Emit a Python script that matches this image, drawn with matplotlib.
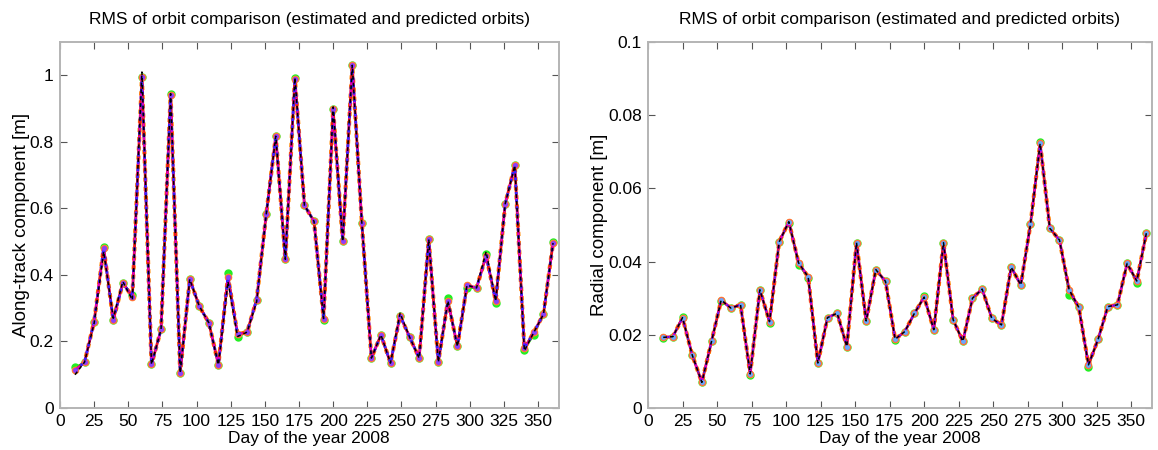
import matplotlib
matplotlib.use("Agg")
import matplotlib.pyplot as plt
from matplotlib.ticker import FixedLocator, FixedFormatter

plt.rcParams['font.family'] = ['Liberation Sans', 'DejaVu Sans']

days = [11, 18, 25, 32, 39, 46, 53, 60, 67, 74, 81, 88, 95, 102, 109, 116, 123,
        130, 137, 144, 151, 158, 165, 172, 179, 186, 193, 200, 207, 214, 221, 228,
        235, 242, 249, 256, 263, 270, 277, 284, 291, 298, 305, 312, 319, 326, 333,
        340, 347, 354, 361]

# Along-track RMS [m] - several overlapping solutions
along_red = [0.113, 0.138, 0.260, 0.481, 0.264, 0.376, 0.334, 0.995, 0.131, 0.236,
             0.942, 0.106, 0.387, 0.306, 0.256, 0.130, 0.395, 0.222, 0.228, 0.326,
             0.582, 0.817, 0.447, 0.990, 0.609, 0.561, 0.269, 0.898, 0.501, 1.030,
             0.557, 0.150, 0.220, 0.135, 0.278, 0.213, 0.150, 0.507, 0.138, 0.322,
             0.185, 0.369, 0.361, 0.458, 0.322, 0.614, 0.729, 0.179, 0.228, 0.282,
             0.496]
along_green = [0.122, 0.138, 0.260, 0.484, 0.264, 0.376, 0.340, 0.995, 0.131, 0.236,
               0.945, 0.106, 0.387, 0.306, 0.256, 0.130, 0.405, 0.213, 0.228, 0.326,
               0.582, 0.817, 0.447, 0.993, 0.609, 0.561, 0.265, 0.898, 0.501, 1.030,
               0.557, 0.150, 0.220, 0.135, 0.278, 0.213, 0.150, 0.507, 0.138, 0.330,
               0.185, 0.360, 0.361, 0.462, 0.315, 0.614, 0.729, 0.175, 0.220, 0.282,
               0.500]
along_black = [0.100, 0.138, 0.255, 0.470, 0.270, 0.380, 0.325, 1.010, 0.131, 0.236,
               0.945, 0.106, 0.387, 0.306, 0.256, 0.130, 0.380, 0.215, 0.228, 0.320,
               0.582, 0.817, 0.447, 0.993, 0.609, 0.561, 0.269, 0.905, 0.501, 1.030,
               0.557, 0.150, 0.220, 0.135, 0.285, 0.213, 0.150, 0.507, 0.138, 0.322,
               0.185, 0.369, 0.361, 0.470, 0.322, 0.614, 0.729, 0.172, 0.228, 0.282,
               0.496]

# Radial RMS [m]
radial_red = [0.0193, 0.0195, 0.0247, 0.0145, 0.0070, 0.0182, 0.0295, 0.0273, 0.0282, 0.0093,
              0.0323, 0.0236, 0.0454, 0.0509, 0.0397, 0.0358, 0.0123, 0.0247, 0.0259, 0.0168,
              0.0452, 0.0238, 0.0378, 0.0346, 0.0188, 0.0209, 0.0259, 0.0303, 0.0214, 0.0452,
              0.0241, 0.0182, 0.0300, 0.0325, 0.0245, 0.0227, 0.0385, 0.0336, 0.0502, 0.0723,
              0.0491, 0.0459, 0.0323, 0.0275, 0.0118, 0.0188, 0.0277, 0.0282, 0.0395, 0.0347,
              0.0479]
radial_green = [0.0190, 0.0195, 0.0250, 0.0145, 0.0070, 0.0182, 0.0292, 0.0273, 0.0282, 0.0090,
                0.0323, 0.0232, 0.0454, 0.0505, 0.0392, 0.0355, 0.0123, 0.0247, 0.0259, 0.0168,
                0.0452, 0.0238, 0.0378, 0.0346, 0.0185, 0.0209, 0.0259, 0.0307, 0.0214, 0.0452,
                0.0241, 0.0182, 0.0300, 0.0325, 0.0245, 0.0227, 0.0385, 0.0336, 0.0502, 0.0727,
                0.0491, 0.0459, 0.0310, 0.0275, 0.0113, 0.0188, 0.0277, 0.0282, 0.0395, 0.0342,
                0.0479]

x_ticks = [0, 25, 50, 75, 100, 125, 150, 175, 200, 225, 250, 275, 300, 325, 350]
along_ticks = [0, 0.2, 0.4, 0.6, 0.8, 1.0]
along_labels = ['0', '0.2', '0.4', '0.6', '0.8', '1']
radial_ticks = [0, 0.02, 0.04, 0.06, 0.08, 0.1]
radial_labels = ['0', '0.02', '0.04', '0.06', '0.08', '0.1']

title = 'RMS of orbit comparison (estimated and predicted orbits)'
xlabel = 'Day of the year 2008'

fig = plt.figure(figsize=(11.58, 4.5), dpi=100)
ax1 = fig.add_axes([0.0518, 0.0933, 0.4305, 0.8133])
ax2 = fig.add_axes([0.5596, 0.0933, 0.4352, 0.8133])


def draw(ax, red, green, black, marker_col, blue_lw):
    ax.plot(days, green, color='#00dd00', lw=1.2, marker='o', ms=5,
            mfc='#22ee22', mec='#22ee22', zorder=2)
    ax.plot(days, red, color='#ff8800', lw=3.0, ls=(0, (1, 1.2)), zorder=3,
            marker='o', ms=4.5, mfc='#ff7a30', mec='#ff9a40')
    ax.plot(days, red, color='#e8141c', lw=2.0, zorder=4, marker='o', ms=4,
            mfc='#ff4a3c', mec='#ff6a40')
    ax.plot(days, red, color='#e000c0', lw=1.6, ls=(0, (3, 2)), zorder=5)
    ax.plot(days, red, color='#3a22ff', lw=blue_lw, ls=(0, (1, 1.6)),
            marker='o', ms=2.5, mfc=marker_col, mec=marker_col, zorder=6)
    ax.plot(days, black, color='black', lw=1.1, ls=(0, (2.5, 2)), zorder=7)


draw(ax1, along_red, along_green, along_black, '#8a40ff', 2.0)
draw(ax2, radial_red, radial_green, radial_red, '#66aaff', 1.2)

for ax, yt, yl, ylim, ylab in [
        (ax1, along_ticks, along_labels, (0, 1.1), 'Along-track component [m]'),
        (ax2, radial_ticks, radial_labels, (0, 0.1), 'Radial component [m]')]:
    ax.set_xlim(0, 365)
    ax.set_ylim(*ylim)
    ax.xaxis.set_major_locator(FixedLocator(x_ticks))
    ax.xaxis.set_major_formatter(FixedFormatter([str(t) for t in x_ticks]))
    ax.yaxis.set_major_locator(FixedLocator(yt))
    ax.yaxis.set_major_formatter(FixedFormatter(yl))
    ax.tick_params(direction='in', top=True, right=True, length=5,
                   width=0.8, color='#555555', labelsize=12.5, pad=4.5)
    for s in ax.spines.values():
        s.set_color('#b4b4b4')
        s.set_linewidth(1.4)
    ax.set_title(title, fontsize=12.5, pad=13)
    ax.set_xlabel(xlabel, fontsize=12.5, labelpad=1.5)
    ax.set_ylabel(ylab, fontsize=13.5, labelpad=0)

fig.savefig('out.png', dpi=100)
